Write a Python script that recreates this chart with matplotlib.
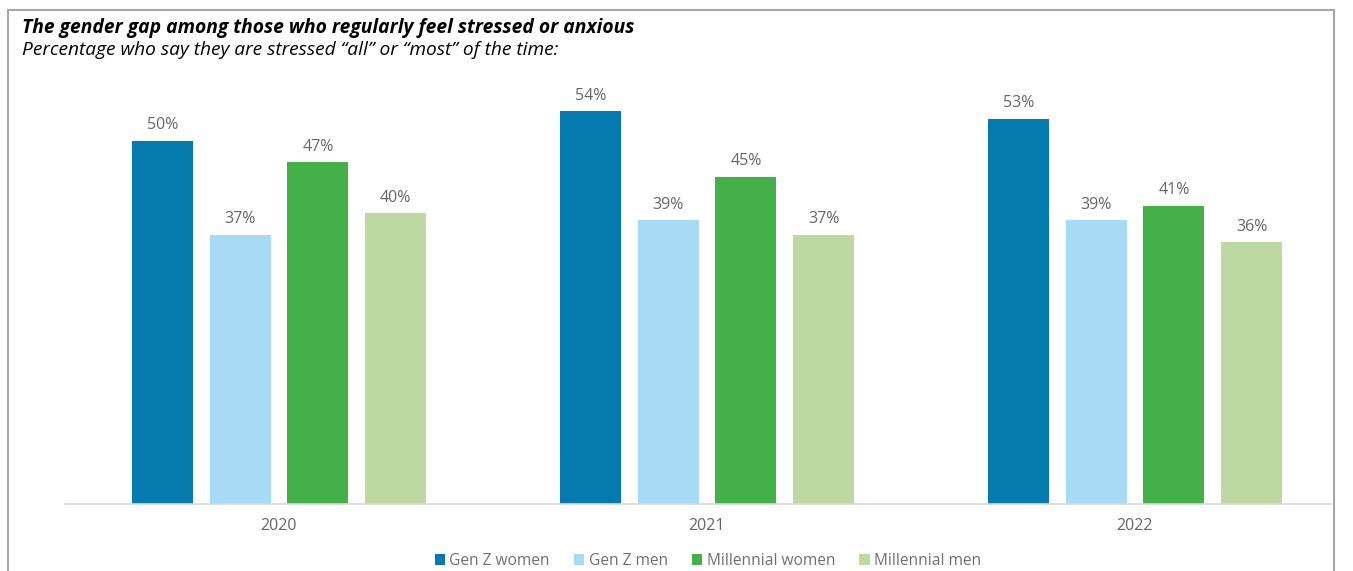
import matplotlib.pyplot as plt
import numpy as np
from matplotlib.patches import Rectangle

#--------data--------
years = ["2020", "2021", "2022"]
series = ["Gen Z women", "Gen Z men", "Millennial women", "Millennial men"]
gen_z_women = [50, 54, 53]
gen_z_men = [37, 39, 39]
millennial_women = [47, 45, 41]
millennial_men = [40, 37, 36]
colors = ["#047AAF", "#A7DAF5", "#43B04A", "#BED8A2"]

values = [gen_z_women, gen_z_men, millennial_women, millennial_men]

plt.rcParams['font.family'] = ['Open Sans', 'DejaVu Sans']

W, H = 1353, 571
fig = plt.figure(figsize=(W / 100, H / 100), dpi=100)

# outer frame (open at the bottom)
fig.add_artist(Rectangle((8 / W, -0.1), (1334 - 8) / W, 1 - 10 / H + 0.1,
                         transform=fig.transFigure, fill=False,
                         edgecolor="#A6A6A6", linewidth=1.5))

ax = fig.add_axes([65 / W, 1 - 504 / H, (1331 - 65) / W, (504 - 84) / H])

x = np.arange(len(years))
step = 0.1815
width = 0.1425
for i, (name, vals) in enumerate(zip(series, values)):
    pos = x + (i - 1.5) * step
    bars = ax.bar(pos, vals, width, color=colors[i], label=name)
    for b, v in zip(bars, vals):
        ax.annotate(f"{v}%", (b.get_x() + b.get_width() / 2, v),
                    xytext=(0, 5.5), textcoords="offset points",
                    ha="center", va="bottom", fontsize=11.5, color="#666666")

ax.set_xlim(-0.5, 2.458)
ax.set_ylim(0, 420 / 7.27)
for s in ["top", "right", "left"]:
    ax.spines[s].set_visible(False)
ax.spines["bottom"].set_color("#D9D9D9")
ax.spines["bottom"].set_linewidth(1.2)
ax.set_yticks([])
ax.set_xticks(x)
ax.set_xticklabels(years, fontsize=11.5, color="#666666")
ax.tick_params(axis="x", length=0, pad=10)

fig.text(22 / W, 1 - 28 / H, "The gender gap among those who regularly feel stressed or anxious",
         fontsize=13.9, fontweight="bold", fontstyle="italic", va="center", color="#000000")
fig.text(22 / W, 1 - 50 / H, "Percentage who say they are stressed \u201call\u201d or \u201cmost\u201d of the time:",
         fontsize=13.8, fontstyle="italic", va="center", color="#000000")

fig.legend(loc="center", bbox_to_anchor=(708 / W, 1 - 561 / H), ncol=4, frameon=False,
           fontsize=11.2, handlelength=0.65, handleheight=0.65, handletextpad=0.3,
           columnspacing=1.55, labelcolor="#6F6F6F")

fig.savefig("out.png", dpi=100)
